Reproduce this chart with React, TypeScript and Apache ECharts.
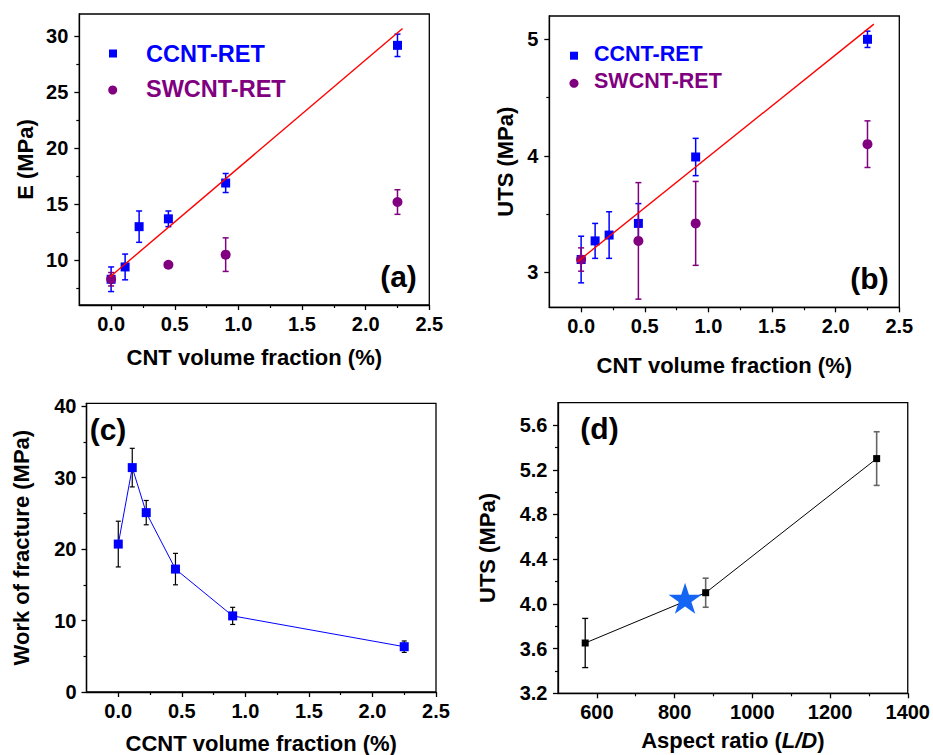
import React, { useEffect, useRef } from "react";
import * as echarts from "echarts";

// ---------- data ----------
// panel (a): Young's modulus vs CNT volume fraction
const fracCcnt = [0, 0.11, 0.22, 0.45, 0.9, 2.25];
const modCcnt = [8.3, 9.4, 13.0, 13.7, 16.9, 29.2];
const modCcntErr = [1.1, 1.15, 1.4, 0.7, 0.85, 1.0];
const fracSw = [0, 0.45, 0.9, 2.25];
const modSw = [8.3, 9.6, 10.5, 15.2];
const modSwErr = [0.6, 0, 1.5, 1.1];
const modFitX = [-0.01, 2.29];
const modFitY = [8.5, 30.7];

// panel (b): UTS vs CNT volume fraction
const utsCcnt = [3.11, 3.27, 3.32, 3.42, 3.99, 5.0];
const utsCcntErr = [0.2, 0.15, 0.2, 0.17, 0.16, 0.07];
const utsSw = [3.11, 3.27, 3.42, 4.1];
const utsSwErr = [0.1, 0.5, 0.36, 0.2];
const utsFitX = [-0.03, 2.3];
const utsFitY = [3.09, 5.13];

// panel (c): work of fracture vs CCNT volume fraction
const wof = [20.7, 31.4, 25.1, 17.2, 10.65, 6.34];
const wofErr = [3.2, 2.7, 1.7, 2.2, 1.2, 0.8];

// panel (d): UTS vs aspect ratio
const aspect = [570, 880, 1320];
const utsAspect = [3.65, 4.1, 5.3];
const utsAspectErr = [0.22, 0.13, 0.24];
const starAspect = [827];
const starUts = [4.05];

// ticks
const fracTicks = [0, 0.5, 1, 1.5, 2, 2.5];
const fracMinor = [0.25, 0.75, 1.25, 1.75, 2.25];
const modTicks = [10, 15, 20, 25, 30];
const modMinor = [7.5, 12.5, 17.5, 22.5, 27.5];
const utsTicks = [3, 4, 5];
const utsMinor = [3.5, 4.5];
const wofTicks = [0, 10, 20, 30, 40];
const wofMinor = [5, 15, 25, 35];
const aspectTicks = [600, 800, 1000, 1200, 1400];
const aspectMinor = [700, 900, 1100, 1300];
const utsDTicks = [3.2, 3.6, 4.0, 4.4, 4.8, 5.2, 5.6];
const utsDMinor = [3.4, 3.8, 4.2, 4.6, 5.0, 5.4];

const FONT = 'Arial, "Liberation Sans", sans-serif';
const BLUE = "#0000ff";
const PURPLE = "#800080";
const RED = "#ff0000";
const STAR = "M50 0 L61.23 34.55 L97.55 34.55 L68.17 55.9 L79.39 90.45 L50 69.1 L20.61 90.45 L31.83 55.9 L2.45 34.55 L38.77 34.55 Z";

function mainAxis(grid: number, isY: boolean, min: number, max: number, ticks: number[], digits: number, name: any, nameGap: number, margin: number, rich?: any) {
  return {
    type: "value",
    gridIndex: grid,
    min,
    max,
    position: isY ? "left" : "bottom",
    axisLine: { show: true, onZero: false, lineStyle: { color: "#000", width: 1.3 } },
    axisTick: { show: true, inside: false, length: 5, customValues: ticks, lineStyle: { color: "#000", width: 1.3 } },
    axisLabel: {
      show: true,
      customValues: ticks,
      margin,
      formatter: (v: number) => v.toFixed(digits),
      fontSize: 20,
      fontWeight: "bold",
      fontFamily: FONT,
      color: "#000",
    },
    splitLine: { show: false },
    name,
    nameLocation: "middle",
    nameGap,
    nameTextStyle: { fontSize: 22, fontWeight: "bold", fontFamily: FONT, color: "#000", rich },
  };
}

function minorAxis(grid: number, isY: boolean, min: number, max: number, ticks: number[]) {
  return {
    type: "value",
    gridIndex: grid,
    min,
    max,
    position: isY ? "left" : "bottom",
    offset: 0,
    axisLine: { show: false, onZero: false },
    axisTick: { show: true, inside: false, length: 3, customValues: ticks, lineStyle: { color: "#000", width: 1.2 } },
    axisLabel: { show: false, customValues: ticks },
    splitLine: { show: false },
  };
}

function errSeries(axis: number, xs: number[], ys: number[], errs: number[], color: string, cap: number, lw: number, z: number) {
  return {
    type: "custom",
    xAxisIndex: axis,
    yAxisIndex: axis,
    z,
    silent: true,
    data: xs.map((x, i) => [x, ys[i], errs[i]]),
    encode: { x: 0, y: 1 },
    renderItem: (_p: any, api: any) => {
      const x = api.value(0);
      const y = api.value(1);
      const e = api.value(2);
      if (!e) return { type: "group", children: [] };
      const t = api.coord([x, y + e]);
      const b = api.coord([x, y - e]);
      const st = { stroke: color, lineWidth: lw };
      return {
        type: "group",
        children: [
          { type: "line", shape: { x1: t[0], y1: t[1], x2: b[0], y2: b[1] }, style: st },
          { type: "line", shape: { x1: t[0] - cap, y1: t[1], x2: t[0] + cap, y2: t[1] }, style: st },
          { type: "line", shape: { x1: b[0] - cap, y1: b[1], x2: b[0] + cap, y2: b[1] }, style: st },
        ],
      };
    },
  };
}

function scatter(axis: number, xs: number[], ys: number[], symbol: string, size: any, color: string, z: number) {
  return {
    type: "scatter",
    xAxisIndex: axis,
    yAxisIndex: axis,
    z,
    symbol,
    symbolSize: size,
    itemStyle: { color, opacity: 1 },
    data: xs.map((x, i) => [x, ys[i]]),
  };
}

function fitLine(axis: number, xs: number[], ys: number[], color: string, width: number, z: number, symbol = "none", symbolSize = 0) {
  return {
    type: "line",
    xAxisIndex: axis,
    yAxisIndex: axis,
    z,
    symbol,
    symbolSize,
    showSymbol: symbol !== "none",
    itemStyle: { color },
    lineStyle: { color, width },
    data: xs.map((x, i) => [x, ys[i]]),
  };
}

function panelLabel(text: string, x: number, y: number) {
  return {
    type: "text",
    x,
    y,
    style: { text, fontSize: 30, fontWeight: "bold", fontFamily: FONT, fill: "#000", align: "center", verticalAlign: "middle" },
  };
}

function legendText(text: string, x: number, y: number, color: string, size: number) {
  return {
    type: "text",
    x,
    y,
    style: { text, fontSize: size, fontWeight: "bold", fontFamily: FONT, fill: color, align: "left", verticalAlign: "middle" },
  };
}

export default function App() {
  const ref = useRef<HTMLDivElement>(null);
  useEffect(() => {
    if (!ref.current) return;
    const chart = echarts.init(ref.current, undefined, { renderer: "svg" });
    const gridStyle = { show: true, borderColor: "#000", borderWidth: 1.3, backgroundColor: "transparent", containLabel: false };
    const option: any = {
      animation: false,
      backgroundColor: "#fff",
      grid: [
        { ...gridStyle, left: 79.3, top: 14, width: 350, height: 291 },
        { ...gridStyle, left: 549.3, top: 16, width: 350, height: 291.3 },
        { ...gridStyle, left: 86.5, top: 403.3, width: 349.5, height: 290.7 },
        { ...gridStyle, left: 558, top: 402.7, width: 350, height: 290.6 },
      ],
      xAxis: [
        mainAxis(0, false, -0.25, 2.5, fracTicks, 1, "CNT volume fraction (%)", 41, 9),
        minorAxis(0, false, -0.25, 2.5, fracMinor),
        mainAxis(1, false, -0.25, 2.5, fracTicks, 1, "CNT volume fraction (%)", 47, 9),
        minorAxis(1, false, -0.25, 2.5, fracMinor),
        mainAxis(2, false, -0.25, 2.5, fracTicks, 1, "CCNT volume fraction (%)", 40, 9),
        minorAxis(2, false, -0.25, 2.5, fracMinor),
        mainAxis(3, false, 500, 1400, aspectTicks, 0, "Aspect ratio ({i|L/D})", 36, 9, {
          i: { fontStyle: "italic", fontWeight: "bold", fontSize: 22, fontFamily: FONT, color: "#000" },
        }),
        minorAxis(3, false, 500, 1400, aspectMinor),
      ],
      yAxis: [
        mainAxis(0, true, 6, 32, modTicks, 0, "E (MPa)", 43, 11),
        minorAxis(0, true, 6, 32, modMinor),
        mainAxis(1, true, 2.7, 5.2, utsTicks, 0, "UTS (MPa)", 33, 11),
        minorAxis(1, true, 2.7, 5.2, utsMinor),
        mainAxis(2, true, 0, 40.4, wofTicks, 0, "Work of fracture (MPa)", 54, 10),
        minorAxis(2, true, 0, 40.4, wofMinor),
        mainAxis(3, true, 3.2, 5.8, utsDTicks, 1, "UTS (MPa)", 60, 10.5),
        minorAxis(3, true, 3.2, 5.8, utsDMinor),
      ],
      series: [
        // (a)
        errSeries(0, fracCcnt, modCcnt, modCcntErr, BLUE, 3, 1.5, 2),
        scatter(0, fracCcnt, modCcnt, "rect", 9, BLUE, 3),
        errSeries(0, fracSw, modSw, modSwErr, PURPLE, 3, 1.5, 4),
        scatter(0, fracSw, modSw, "circle", 10, PURPLE, 5),
        fitLine(0, modFitX, modFitY, RED, 1.4, 6),
        // (b)
        errSeries(2, fracCcnt, utsCcnt, utsCcntErr, BLUE, 3, 1.5, 2),
        scatter(2, fracCcnt, utsCcnt, "rect", 9, BLUE, 3),
        errSeries(2, fracSw, utsSw, utsSwErr, PURPLE, 3, 1.5, 4),
        scatter(2, fracSw, utsSw, "circle", 10, PURPLE, 5),
        fitLine(2, utsFitX, utsFitY, RED, 1.4, 6),
        // (c)
        errSeries(4, fracCcnt, wof, wofErr, "#000", 2.5, 1.2, 2),
        fitLine(4, fracCcnt, wof, BLUE, 1, 3, "rect", 9),
        // (d)
        errSeries(6, aspect.slice(0, 1), utsAspect.slice(0, 1), utsAspectErr.slice(0, 1), "#000", 3, 1.3, 2),
        errSeries(6, aspect.slice(1), utsAspect.slice(1), utsAspectErr.slice(1), "#666", 3, 1.6, 2),
        fitLine(6, aspect, utsAspect, "#000", 1, 3, "rect", 7),
        scatter(6, starAspect, starUts, "path://" + STAR, [33, 31], "#1565F5", 4),
      ],
      graphic: [
        panelLabel("(a)", 398.5, 276.5),
        panelLabel("(b)", 869.5, 278),
        panelLabel("(c)", 108, 429),
        panelLabel("(d)", 599.5, 428),
        { type: "rect", shape: { x: 109, y: 49.5, width: 8, height: 8 }, style: { fill: BLUE } },
        legendText("CCNT-RET", 146, 54.3, BLUE, 23.5),
        { type: "circle", shape: { cx: 112.7, cy: 90, r: 4.5 }, style: { fill: PURPLE } },
        legendText("SWCNT-RET", 146, 88.8, PURPLE, 23.5),
        { type: "rect", shape: { x: 570, y: 51.7, width: 8, height: 8 }, style: { fill: BLUE } },
        legendText("CCNT-RET", 594, 53.5, BLUE, 21.5),
        { type: "circle", shape: { cx: 574, cy: 83.3, r: 4.5 }, style: { fill: PURPLE } },
        legendText("SWCNT-RET", 594, 80.5, PURPLE, 21.5),
      ],
    };
    chart.setOption(option);
    return () => chart.dispose();
  }, []);
  return (
    <div
      ref={ref}
      style={{ position: "absolute", left: 0, top: 0, width: 933, height: 755, background: "#fff" }}
    />
  );
}
